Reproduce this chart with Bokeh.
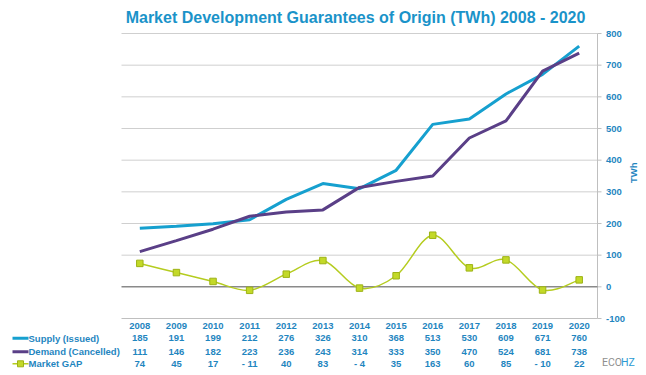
from bokeh.plotting import figure
from bokeh.models import Range1d
from bokeh.embed import file_html
from bokeh.resources import INLINE
from bokeh.core.properties import value
import math

years = [2008, 2009, 2010, 2011, 2012, 2013, 2014, 2015, 2016, 2017, 2018, 2019, 2020]
supply = [185, 191, 199, 212, 276, 326, 310, 368, 513, 530, 609, 671, 760]
demand = [111, 146, 182, 223, 236, 243, 314, 333, 350, 470, 524, 681, 738]
gap = [74, 45, 17, -11, 40, 83, -4, 35, 163, 60, 85, -10, 22]
gap_labels = ["74", "45", "17", "- 11", "40", "83", "- 4", "35", "163", "60", "85", "- 10", "22"]
y_ticks = [-100, 0, 100, 200, 300, 400, 500, 600, 700, 800]
series_names = ["Supply (Issued)", "Demand (Cancelled)", "Market GAP"]
title_text = "Market Development Guarantees of Origin (TWh) 2008 - 2020"

BLUE_TXT = "#1f86bf"
SUP = "#16a0cf"
DEM = "#5a3f87"
GAP = "#b5cc1f"
FONT = "Liberation Sans"

# frame covers whole canvas; plot area x: 2007.5..2020.5, y: -100..800
XL, XR = 2007.5, 2020.5
YB, YT = -100, 800
PX_X = 476 / 13.0      # px per year
PX_Y = 285 / 900.0     # px per TWh
W, H = 646, 375
x_lo = XL - 121 / PX_X
x_hi = x_lo + W / PX_X
y_hi = YT + 33 / PX_Y
y_lo = y_hi - H / PX_Y

p = figure(width=W, height=H, output_backend="svg", toolbar_location=None,
           x_range=Range1d(x_lo, x_hi), y_range=Range1d(y_lo, y_hi),
           x_axis_location=None, y_axis_location=None,
           min_border=0, outline_line_color=None)
p.xgrid.visible = False
p.ygrid.visible = False

# gridlines
grid_vals = [t for t in y_ticks if t not in (-100, 0)]
p.segment(x0=[XL] * len(grid_vals), y0=grid_vals, x1=[XR] * len(grid_vals), y1=grid_vals,
          line_color="#cfcfcf", line_width=1)
# bottom axis line at -100 and right axis
p.segment(x0=[XL], y0=[YB], x1=[XR], y1=[YB], line_color="#bfbfbf", line_width=1)
p.segment(x0=[XR], y0=[YB], x1=[XR], y1=[YT], line_color="#bfbfbf", line_width=1)
tick_len = 4 / PX_X
p.segment(x0=[XR] * len(y_ticks), y0=y_ticks, x1=[XR + tick_len] * len(y_ticks), y1=y_ticks,
          line_color="#bfbfbf", line_width=1)
p.text(x=[XR + 8.5 / PX_X] * len(y_ticks), y=y_ticks, text=[str(t) for t in y_ticks],
       text_font=value(FONT), text_font_style="bold", text_font_size="9.5px",
       text_color=BLUE_TXT, text_baseline="middle", text_align="left")
p.text(x=[XR + 36 / PX_X], y=[360], text=["TWh"], angle=math.pi / 2,
       text_font=value(FONT), text_font_style="bold", text_font_size="9.5px",
       text_color=BLUE_TXT, text_baseline="middle", text_align="center")
# zero line
p.segment(x0=[XL], y0=[0], x1=[XR], y1=[0], line_color="#8a8a8a", line_width=1.5)

p.line(years, supply, line_color=SUP, line_width=3)
p.line(years, demand, line_color=DEM, line_width=3)

# smoothed GAP line (Catmull-Rom style Bezier through the data points)
n = len(years)
x0s, y0s, x1s, y1s, cx0, cy0, cx1, cy1 = [], [], [], [], [], [], [], []
for i in range(n - 1):
    pm = (years[max(i - 1, 0)], gap[max(i - 1, 0)])
    pa = (years[i], gap[i])
    pb = (years[i + 1], gap[i + 1])
    pn = (years[min(i + 2, n - 1)], gap[min(i + 2, n - 1)])
    x0s.append(pa[0]); y0s.append(pa[1]); x1s.append(pb[0]); y1s.append(pb[1])
    cx0.append(pa[0] + (pb[0] - pm[0]) / 6); cy0.append(pa[1] + (pb[1] - pm[1]) / 6)
    cx1.append(pb[0] - (pn[0] - pa[0]) / 6); cy1.append(pb[1] - (pn[1] - pa[1]) / 6)
p.bezier(x0=x0s, y0=y0s, x1=x1s, y1=y1s, cx0=cx0, cy0=cy0, cx1=cx1, cy1=cy1,
         line_color=GAP, line_width=1.5)
p.scatter(years, gap, marker="square", size=6.5, fill_color="#c3d928", line_color="#9db316", line_width=1)

# title
p.text(x=[XL + (355 - 121) / PX_X], y=[YT + 16 / PX_Y], text=[title_text],
       text_font=value(FONT), text_font_style="bold", text_font_size="16px",
       text_color="#1a93c9", text_align="center", text_baseline="middle")

# data table
def py(px_below_axis):
    return YB - px_below_axis / PX_Y
row_y = [py(7.7), py(19.7), py(33.2), py(45.3)]
for texts, y in zip([[str(v) for v in years], [str(v) for v in supply], [str(v) for v in demand], gap_labels], row_y):
    p.text(x=years, y=[y] * n, text=texts, text_font=value(FONT), text_font_style="bold",
           text_font_size="9.5px", text_color=BLUE_TXT, text_align="center", text_baseline="middle")

lx0 = XL - 109 / PX_X
lx1 = XL - 93 / PX_X
p.text(x=[lx1] * 3, y=row_y[1:], text=series_names, text_font=value(FONT), text_font_style="bold",
       text_font_size="9.5px", text_color=BLUE_TXT, text_align="left", text_baseline="middle")
p.segment(x0=[lx0] * 3, y0=row_y[1:], x1=[lx1] * 3, y1=row_y[1:],
          line_color=[SUP, DEM, GAP], line_width=[3, 3, 1.5])
p.scatter(x=[(lx0 + lx1) / 2], y=[row_y[3]], marker="square", size=6,
          fill_color="#c3d928", line_color="#9db316", line_width=1)

# ECOHZ
p.text(x=[XR + 4.5 / PX_X], y=[py(44)], text=["ECO"], text_font=value("Roboto"),
       text_font_size="10.5px", text_color="#8f8f8f", text_baseline="middle")
p.text(x=[XR + 23.5 / PX_X], y=[py(44)], text=["HZ"], text_font=value("Roboto"),
       text_font_size="10.5px", text_color="#2a9ad3", text_baseline="middle")

open("out.html", "w").write(file_html(p, INLINE))
